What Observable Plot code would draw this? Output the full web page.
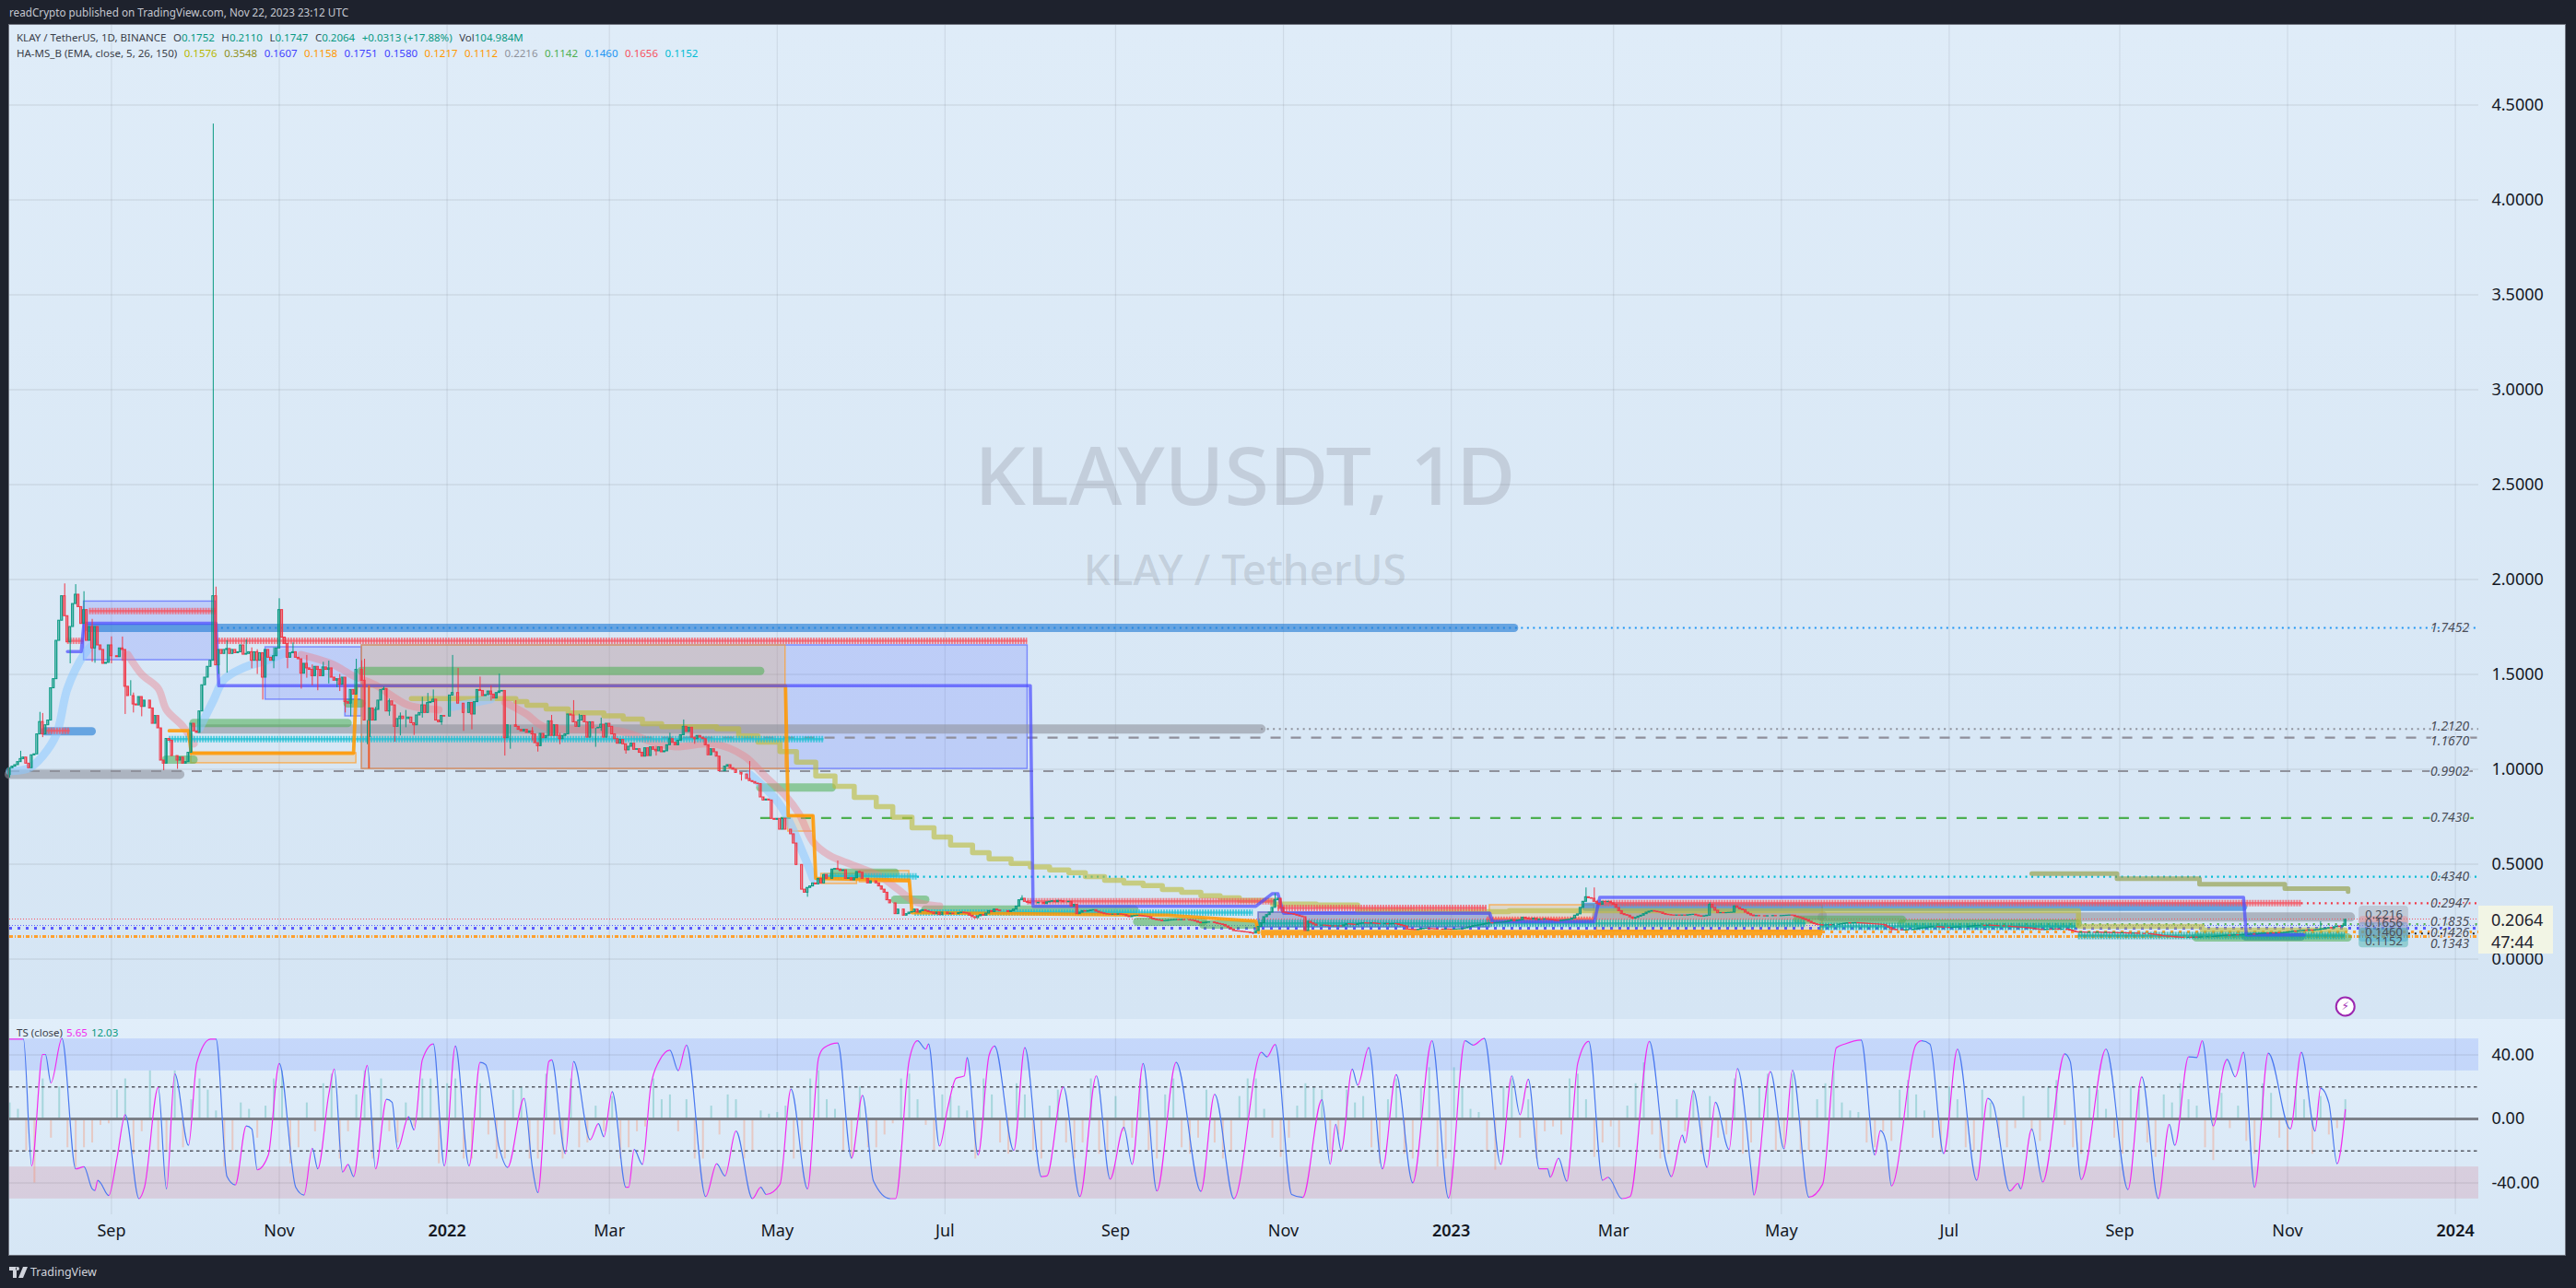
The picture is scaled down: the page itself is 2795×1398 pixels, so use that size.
<!DOCTYPE html>
<html><head><meta charset="utf-8">
<script src="https://cdn.jsdelivr.net/npm/d3@7"></script>
<script src="https://cdn.jsdelivr.net/npm/@observablehq/plot@0.6"></script>
<style>
html,body{margin:0;padding:0;background:#1e222d;width:2795px;height:1398px;overflow:hidden;font-family:"Noto Sans",sans-serif}
.abs{position:absolute}
#published{left:10px;top:5px;font-size:11.7px;color:#c4c7d0;white-space:nowrap}
#paneTop{left:10px;top:27px;width:2774px;height:1079px;background:linear-gradient(#dfecf8,#d5e5f4)}
#paneSub{left:10px;top:1106px;width:2774px;height:257px;background:linear-gradient(#e1eefa,#d6e6f5)}
#frame{left:9px;top:26px;width:2775px;height:1337px;border:1px solid #6f737e;box-sizing:border-box;pointer-events:none}
.pl{left:18px;font-size:11.5px;color:#3b3f4a;white-space:nowrap}
.pl span{margin-left:7.5px}
.pl b{font-weight:400}
#last{left:2689px;top:983px;width:81px;height:52px;background:#f2f5e5;color:#1e222d;font-size:18px;line-height:24px;padding:3px 0 0 14px;box-sizing:border-box}
#foot{left:10px;top:1372px;font-size:12.5px;color:#d1d4dc;display:flex;align-items:center;gap:3px}
svg{background:transparent}
</style></head><body>
<div class="abs" id="published">readCrypto published on TradingView.com, Nov 22, 2023 23:12 UTC</div>
<div class="abs" id="paneTop"></div><div class="abs" id="paneSub"></div>
<div class="abs" id="chartTop" style="left:10px;top:27px"></div>
<div class="abs" id="chartSub" style="left:10px;top:1106px"></div>
<div class="abs pl" id="l1" style="top:33px"></div>
<div class="abs pl" id="l2" style="top:50px"></div>
<div class="abs pl" id="l3" style="top:1113px"></div>
<div class="abs" id="last">0.2064<br>47:44</div>
<div class="abs" id="frame"></div>
<div class="abs" id="foot"><svg width="20" height="12" viewBox="0 0 20 12"><path d="M0 0h8v12H4V4H0zM9 4a2 2 0 1 0 0-4 2 2 0 0 0 0 4zM15 0h5l-5 12h-5z" fill="#d1d4dc"/></svg>TradingView</div>
<script>
// ---------- daily closes (day 0 = 2021-07-26) ----------
const closesA=[1.006,1.014,1.022,1.038,1.054,1.062,1.03,1.006,1.074,1.079,1.184,1.249,1.184,1.232,1.257,1.427,1.475,1.677,1.783,1.912,1.807,1.669,1.75,1.871,1.92,1.855,1.766,1.839,1.677,1.75,1.637,1.75,1.653,1.629,1.556,1.561,1.653,1.596,1.596,1.591,1.637,1.629,1.435,1.386,1.386,1.342,1.337,1.381,1.329,1.362,1.362,1.321,1.24,1.281,1.216,1.046,1.03,1.16,1.151,1.07,1.07,1.046,1.062,1.03,1.038,1.087,1.24,1.2,1.192,1.305,1.443,1.483,1.54,1.572,1.912,1.548,1.629,1.608,1.629,1.634,1.608,1.629,1.612,1.617,1.653,1.604,1.608,1.617,1.572,1.617,1.572,1.612,1.483,1.629,1.588,1.572,1.596,1.637,1.839,1.694,1.661,1.588,1.612,1.617,1.588,1.58,1.504,1.556,1.532,1.524,1.491,1.54,1.524,1.491,1.537,1.524,1.532,1.483,1.467,1.475,1.446,1.483,1.354,1.346,1.418,1.394,1.524,1.524,1.467,1.257,1.257,1.321];
const closesB=[1.257,1.313,1.362,1.418,1.423,1.305,1.358,1.337,1.224,1.265,1.278,1.265,1.265,1.273,1.243,1.232,1.284,1.297,1.337,1.297,1.349,1.354,1.367,1.257,1.248,1.281,1.278,1.278,1.389,1.402,1.402,1.346,1.346,1.297,1.297,1.35,1.289,1.354,1.418,1.413,1.386,1.391,1.41,1.394,1.373,1.402,1.41,1.413,1.164,1.232,1.232,1.232,1.224,1.208,1.2,1.208,1.192,1.2,1.184,1.138,1.122,1.187,1.164,1.176,1.253,1.176,1.232,1.176,1.159,1.176,1.184,1.289,1.284,1.248,1.224,1.257,1.281,1.248,1.167,1.248,1.216,1.216,1.219,1.235,1.167,1.24,1.224,1.184,1.159,1.135,1.155,1.132,1.1,1.119,1.135,1.103,1.106,1.087,1.067,1.111,1.07,1.116,1.103,1.095,1.116,1.09,1.095,1.127,1.159,1.14,1.127,1.151,1.18,1.224,1.197,1.219,1.167,1.159,1.176,1.167,1.159,1.127,1.074,1.106,1.09,1.067,.99,.99,1.014,1.022,1.006,.998,.981];
const closesC=[.981,.973,.973,.949,.938,.933,.925,.922,.852,.836,.841,.836,.739,.734,.739,.682,.739,.682,.682,.658,.609,.496,.496,.366,.35,.375,.383,.399,.394,.423,.399,.443,.423,.423,.472,.475,.472,.464,.468,.423,.426,.415,.426,.459,.455,.423,.423,.399,.41,.41,.399,.383,.366,.35,.31,.294,.294,.237,.261,.261,.229,.237,.245,.248,.261,.245,.253,.258,.253,.248,.245,.237,.245,.232,.245,.245,.237,.24,.237,.237,.242,.245,.242,.24,.229,.221,.216,.226,.232,.229,.24,.253,.248,.261,.256,.253,.253,.253,.248,.253,.261,.277,.31,.318,.302,.297,.294,.294,.294,.297,.297,.29,.299,.302,.305,.3,.307,.305,.3,.3,.302,.277,.286,.237,.245,.253,.25];
const closesD=[.253,.256,.258,.25,.245,.241,.237,.235,.234,.235,.234,.236,.234,.232,.226,.221,.226,.228,.229,.227,.225,.223,.221,.213,.208,.205,.203,.2,.201,.203,.204,.205,.206,.205,.206,.205,.205,.204,.202,.198,.192,.189,.19,.192,.193,.193,.19,.186,.183,.18,.172,.164,.156,.148,.146,.145,.143,.141,.14,.137,.135,.148,.17,.189,.221,.232,.245,.27,.31,.318,.27,.245,.241,.238,.237,.233,.229,.225,.221,.148,.197,.189,.182,.176,.176,.177,.176,.174,.172,.173,.172,.173,.172,.178,.184,.183,.181,.18,.184,.187,.189,.188,.187,.189,.187,.185,.184,.184,.185,.183,.184,.185,.184,.18,.176,.172,.156,.155,.154,.153,.155,.158,.16,.161,.159,.158,.157,.156,.156,.155,.157,.156,.155,.156,.157,.158,.159,.162,.166,.17,.174,.176,.178,.181,.184,.187,.189,.188,.19,.191,.192,.193,.196,.2,.205,.2,.203,.205];
const closesE=[.218,.214,.211,.209,.213,.206,.209,.208,.21,.208,.206,.204,.201,.2,.202,.204,.206,.208,.214,.229,.236,.27,.302,.326,.321,.318,.302,.292,.286,.302,.3,.302,.294,.286,.27,.253,.237,.232,.229,.22,.213,.217,.224,.229,.237,.245,.25,.253,.25,.247,.245,.238,.234,.232,.23,.229,.23,.229,.23,.229,.231,.233,.234,.23,.226,.224,.226,.229,.286,.27,.255,.242,.243,.242,.243,.244,.245,.278,.27,.262,.258,.245,.237,.23,.226,.227,.226,.226,.225,.226,.226,.227,.226,.226,.227,.228,.229,.23,.229,.224,.22,.216,.21,.205,.197,.189,.184,.18,.179,.177,.178,.179,.178,.18,.18,.182,.184,.187,.189,.188,.189,.19,.189,.188,.187,.186,.185,.184,.183,.182,.181,.18,.172,.165,.156,.154,.152,.152,.151,.152,.153,.153,.155,.158,.16,.162,.164,.166,.168,.169,.169,.168,.167,.165,.165,.164,.165,.166,.167,.168,.168,.168];
const closesF=[.171,.172,.174,.175,.176,.176,.175,.177,.176,.175,.174,.173,.173,.172,.172,.17,.169,.168,.167,.166,.165,.164,.162,.16,.158,.156,.154,.153,.155,.156,.155,.157,.156,.155,.156,.156,.154,.15,.146,.142,.14,.141,.14,.139,.14,.14,.139,.14,.139,.138,.139,.138,.137,.138,.137,.136,.137,.136,.135,.134,.135,.134,.133,.133,.132,.132,.131,.129,.127,.125,.122,.12,.119,.118,.117,.115,.114,.113,.112,.112,.113,.112,.114,.113,.114,.115,.115,.116,.116,.117,.119,.12,.122,.123,.124,.123,.125,.126,.125,.126,.127,.127,.128,.13,.129,.131,.133,.134,.135,.134,.136,.135,.137,.136,.137,.139,.141,.143,.146,.145,.147,.148,.15,.149,.151,.15,.152,.153,.156,.158,.161,.164,.162,.168,.172,.169,.1752,.2064];
// notable wicks: [day, high, low]
const wicks=[[0,null,.954],[4,1.095,null],[11,1.3,null],[12,1.294,1.167],[20,1.977,null],[22,null,1.556],[24,1.973,null],[27,1.936,null],[30,1.79,1.564],[31,null,1.559],[37,1.698,1.556],[41,1.697,1.569],[42,null,1.289],[44,1.467,null],[45,1.402,1.297],[48,null,1.277],[56,null,.993],[61,null,1],[74,4.4,null],[75,1.96,null],[76,null,1.5],[79,1.677,1.507],[86,1.682,null],[88,1.64,1.53],[90,1.63,1.5],[92,null,1.365],[96,1.64,1.53],[98,1.899,null],[101,1.64,1.53],[103,1.666,null],[106,null,1.423],[108,1.6,1.48],[110,1.55,1.44],[112,null,1.414],[114,1.564,null],[116,1.57,1.45],[119,null,1.43],[120,1.5,1.41],[122,null,1.297],[124,null,1.277],[126,1.58,1.5],[128,1.572,null],[129,1.58,null],[130,null,1.13],[131,null,1.167],[133,1.326,null],[136,1.434,null],[138,1.37,1.28],[140,null,1.143],[142,1.297,1.176],[144,1.31,1.219],[147,null,1.179],[150,1.38,1.27],[152,1.4,1.3],[154,1.418,null],[157,null,1.232],[161,1.6,null],[163,1.532,null],[165,1.33,1.2],[168,null,1.208],[171,1.486,null],[175,1.44,1.36],[178,1.502,null],[180,null,1.07],[182,null,1.106],[184,1.362,null],[190,1.22,1.15],[192,null,1.091],[197,1.284,null],[200,1.19,1.13],[205,1.362,null],[207,1.29,1.22],[213,null,1.116],[215,1.27,1.2],[224,1.13,1.08],[235,1.12,1.07],[240,1.19,1.13],[245,1.26,null],[249,null,1.132],[266,null,.938],[269,1.041,null],[290,null,.326],[301,.517,null],[368,.334,null],[452,null,.129],[460,.345,null],[573,.375,null],[576,.375,null],[618,.297,null],[684,null,.135],[840,.197,null],[849,.211,.1747]];

// overlay bands and boxes: [startDay, endDay, price] / [startDay, endDay, top, bottom]
const redBands=[[29,75,1.834],[75,370,1.677],[13,22,1.203],[21,27,1.677],[370,460,.305],[461,537,.269],[537,576,.208],[577,833,.2947]];
const cyanBands=[[58,296,1.159],[296,330,.436],[329,452,.245]];
const tealBands=[[454,653,.188],[658,751,.172],[752,849,.124]];
const greenBands=[[128,273,1.518],[67,123,1.244],[57,67,1.051],[123,128,1.347],[273,299,.904],[300,322,.455],[322,333,.313],[333,409,.261],[410,434,.197],[434,452,.182],[650,688,.208],[688,752,.187],[795,850,.114]];
const grayBands=[[0,62,.973],[69,455,1.212],[577,659,.231],[659,851,.2216]];
const blueBands=[[29,547,1.7452],[13,30,1.2],[573,812,.275],[813,833,.119]];
const orangeThick=[[455,659,.14]];
const blueBoxes=[[27,75,1.884,1.575],[93,128,1.643,1.367],[122,128,1.367,1.279],[128,370,1.653,1.002],[454,538,.245,.168]];
const orangeBoxes=[[66,126,1.085,1.032],[128,282,1.653,1.002],[283,292,.755,.672],[295,308,.449,.396],[309,327,.464,.405],[538,576,.284,.211],[577,659,.284,.148]];
const greyBoxes=[[454,538,.245,.168]];
const indigoDays=[21,26,27,75,76,371,372,453,459,461,463,538,539,576,578,812,813,834];
const indigoPrices=[1.62,1.62,1.77,1.77,1.44,1.44,.278,.278,.345,.345,.242,.242,.197,.197,.325,.325,.128,.128];
const orangeDays=[58,65,66,125,126,282,283,292,293,327,328,421,453,454];
const orangePrices=[1.203,1.203,1.085,1.085,1.44,1.44,.755,.755,.425,.415,.245,.231,.2,.14];
const oliveDays=[146,179,184,188,195,203,216,223,230,237,257,265,272,280,286,293,300,307,315,321,328,336,342,350,356,364,371,378,385,391,398,405,412,419,426,433,440,447,459,475,490,510,545,752,797,849];
const olivePrices=[1.373,1.373,1.357,1.337,1.318,1.297,1.281,1.264,1.24,1.224,1.213,1.176,1.143,1.094,1.038,.965,.91,.852,.803,.747,.692,.643,.601,.561,.528,.504,.485,.47,.455,.434,.415,.4,.387,.367,.352,.334,.323,.31,.29,.285,.255,.25,.255,.172,.153,.153];
const darkOliveDays=[735,766,796,827,849,850];
const darkOlivePrices=[.45,.423,.394,.371,.371,.355];
const pinkSeries=[[[43,1.604],[48,1.5],[54,1.426],[57,1.313],[63,1.226],[67,1.135]],[[106,1.604],[117,1.556],[125,1.492],[133,1.444],[140,1.377],[145,1.337],[156,1.313]],[[180,1.353],[188,1.289],[194,1.226],[222,1.2],[234,1.143],[242,1.119],[256,1.134],[267,1.07],[275,.958],[282,.861],[287,.764],[292,.618],[298,.546],[306,.498],[316,.439],[323,.366],[329,.303],[338,.279]]];
const lightBlueSeries=[[[0,.99],[7,1.006],[12,1.07],[17,1.184],[21,1.426],[27,1.604],[31,1.669]],[[69,1.216],[74,1.362],[78,1.475],[86,1.541],[93,1.572],[100,1.614]],[[161,1.329],[175,1.37]],[[269,.973],[280,.813],[289,.536],[292,.425]]];
// level lines drawn to the right edge: [startDay, price, colour, width, dash]
const levels=[[77,1.7452,"#2196f3",2.2,"2 4.5"],[455,1.212,"#8f929c",2,"2 4.5"],[230,1.167,"#8f8f9b",2.2,"11 11"],[0,.9902,"#8f929c",2.2,"11 11"],[273,.743,"#4caf50",2.2,"11 11"],[330,.434,"#00bcd4",2.2,"2 4.5"],[833,.2947,"#f23645",2.2,"2 4.5"],[0,.211,"#f7525f",1,"1 2"],[0,.177,"#5a5aff",1,"1 2"],[0,.1625,"#5a5aff",3,"3 6"],[0,.119,"#ff9f2d",3,"4 2 1 2"],[690,.1835,"#4caf50",2.2,"2 6"],[659,.1426,"#ff9f2d",3,"3 6"],[872,.135,"#222222",2,"2 5"]];
// right-hand level labels: [price, text, vertical nudge]
const levelLabels=[[1.7452,"1.7452",0],[1.212,"1.2120",-3],[1.167,"1.1670",4],[.9902,"0.9902",0],[.743,"0.7430",0],[.434,"0.4340",0],[.2947,"0.2947",0],[.1835,"0.1835",-3],[.1426,"0.1426",1],[.1343,"0.1343",11]];
const tags=[[.279,.182,"#9a9da8",.2216,"0.2216",-3],[.225,.118,"#f77c80",.1656,"0.1656",-5],[.1925,.09,"#42a5f5",.146,"0.1460",1],[.162,.06,"#26a69a",.1152,"0.1152",5]];
const priceTicks=[0,.5,1,1.5,2,2.5,3,3.5,4,4.5];
const monthTicks=["2021-09-01","2021-11-01","2022-03-01","2022-05-01","2022-07-01","2022-09-01","2022-11-01","2023-03-01","2023-05-01","2023-07-01","2023-09-01","2023-11-01"];
const yearTicks=["2022-01-01","2023-01-01","2024-01-01"];
// oscillator turning points: days and values
const waveDays=[0,5,8,12,13,15,19,24,27,30,31,32,33,36,39,42,47,49,54,57,60,65,68,73,75,79,82,86,88,90,94,98,104,107,110,112,116,118,121,123,125,130,133,137,139,141,145,147,150,154,158,162,167,171,173,178,181,187,190,192,196,197,202,205,211,214,216,219,224,225,227,230,233,236,240,243,246,253,257,260,264,270,273,275,280,284,290,294,296,301,306,310,314,320,322,327,330,333,334,338,341,344,347,348,352,356,358,365,369,375,377,383,389,395,400,405,408,412,417,424,433,438,445,455,457,460,466,470,477,480,482,484,488,490,494,499,504,510,517,523,529,532,536,542,546,549,552,556,559,560,563,566,570,574,579,581,586,589,596,602,604,608,609,612,617,620,625,628,633,634,640,645,648,654,659,664,667,673,678,680,682,684,693,695,698,703,708,715,719,721,727,730,731,735,739,747,749,753,762,770,775,781,785,787,792,795,797,801,805,806,809,812,816,821,829,833,838,840,843,846,849];
const waveValues=[49.9,49.9,-29.3,40.3,40.3,22.5,50.3,-31.2,-29.9,-43.7,-44.7,-38.3,-39.9,-47.9,-24.5,2.7,-49.8,-42.7,19.6,-43.7,28.2,-16.5,35,49.9,49.9,-36,-41.2,-4.4,-6.3,-31.8,-22.6,34.6,-42.7,-47.5,-18.4,-31.2,15.4,31.1,-33.2,-28.4,-36,33.4,-31.2,12.3,10.4,-18.8,1.4,-6.9,36.9,46.8,-29.3,45.5,-29.3,35.3,34,-18.4,-30.3,12.9,-30.3,-46,35.9,36.9,-21.6,35.9,-13,-3,-11.1,17.1,-42.7,-42.7,-19.1,-28.4,20,35.9,43,30.2,46.1,-48.5,-28,-35.6,-7.6,-49.8,-42.7,-47.2,-40.8,18.6,-43.7,37.9,44.5,47.4,-24.5,14.8,-38.9,-49.8,-49.8,36.9,48.8,43.6,46.8,-16.9,7.1,25.4,26.9,38.4,-22.5,39.7,45.5,-19.7,44.5,-36,-35.6,20,-48.5,26.9,-37.6,-5.3,-28.4,34.6,-45,35.3,-45.2,15.4,-49.8,41.7,38.8,46.5,-47.2,-49,12,-28.3,-3.4,-19.7,31.1,21.1,44.5,-31.2,27.7,-39.9,48.8,-49.4,48.8,46.1,50.3,-28.4,26.9,2.7,24.8,-31.2,-31.2,-36.4,-24.5,-38.9,34.9,48.4,-38.3,-36.4,-49.8,-48.5,48.4,-26.4,-36,-10.2,-14.9,17.7,-30.3,10.4,-19.1,31.5,-32.2,-47.5,29.6,-18.7,30.5,-48.9,-40.8,44.5,46.8,49.3,-22.6,-7.3,-14,-41.8,46.5,48.8,46.8,-21.6,43.6,-38.3,12.9,9,-45,-40.3,-43.7,-6.3,-39.4,40.7,35.9,-37.9,43.6,-44.1,26.3,-49.8,-3.4,-16.5,38.8,38.4,48.8,-4.4,34,37.2,26.3,41.7,-42.7,41.1,-6.3,41.7,-7.6,19.2,10,-28,5.8];
// oscillator histogram, one bar read every third day
const hist3day=[10,6,-20,-40,25,-12,20,-18,-30,-18,-15,-4,-3,18,25,-22,-8,30,-20,-20,30,-18,12,25,18,5,-30,-20,10,6,-12,8,25,30,-28,-18,10,-8,22,28,-25,-8,15,30,-25,25,-8,-15,10,-5,25,25,-28,22,25,-25,-25,22,-10,-25,-25,18,20,-25,-25,28,-10,-25,25,-18,-15,8,-8,14,-25,-18,-8,-5,25,12,15,-8,12,-25,-25,8,-10,15,12,-25,-20,5,3,4,8,-25,-20,25,30,12,6,-20,-25,20,-18,-18,-10,-3,25,28,12,-4,-20,15,14,8,5,-25,25,15,-15,-22,22,15,-20,-25,8,18,-15,-25,-15,25,-22,-20,14,-8,-12,25,-20,-25,15,25,-18,-22,-12,18,-15,-25,-20,14,25,25,6,-12,-24,-12,8,22,20,18,-22,-10,18,10,14,-18,-28,12,25,-22,-25,20,32,-30,-25,32,20,6,4,-20,-32,20,25,-12,12,-25,-8,-5,-10,25,28,12,-24,-15,-5,-18,8,22,35,-10,-25,-22,12,-8,18,-22,14,-12,-10,25,-22,-15,20,28,-20,-18,28,-22,-20,12,22,30,10,5,4,-15,-18,-8,-14,18,24,15,5,-12,-20,20,12,-18,-20,18,10,-12,-18,-6,14,-8,-14,20,24,-4,-18,-22,20,18,6,-12,-22,20,18,-15,-24,15,10,22,12,8,-18,-26,16,-6,8,-14,-22,22,16,-12,-20,20,12,-22,14,-10,-6,12];

const start=Date.UTC(2021,6,26), D=864e5, day=i=>new Date(start+i*D), LAST=897.5;
const closes=[...closesA,...closesB,...closesC,...closesD,...closesE,...closesF];
const wickMap=new Map(wicks.map(w=>[w[0],w]));
const candles=closes.map((c,i)=>{const o=i?closes[i-1]:.97,w=wickMap.get(i)||[i,null,null];
  return {date:day(i),x1:day(i-.36),x2:day(i+.36),o,c,h:Math.max(o,c,w[1]??0),l:Math.min(o,c,w[2]??9)};});
const upCandles=candles.filter(d=>d.c>=d.o),downCandles=candles.filter(d=>d.c<d.o);
const GREEN="#089981",RED="#f23645",MAGENTA="#f02cf0",WAVEBLUE="#4a78f0";
const xScale={type:"utc",domain:[day(0),day(LAST)],range:[0,2679]};
const hb=(rows,o)=>Plot.ruleY(rows,{x1:r=>day(r[0]),x2:r=>day(r[1]),y:r=>r[2],...o});
const hatched=(rows,c,w=7)=>[hb(rows,{stroke:c,strokeWidth:2.5,strokeOpacity:.7}),hb(rows,{stroke:c,strokeWidth:w,strokeDasharray:"2 1",strokeOpacity:.7})];
const boxes=(rows,fill,stroke,fo)=>Plot.rect(rows,{x1:r=>day(r[0]),x2:r=>day(r[1]),y1:r=>r[2],y2:r=>r[3],fill,fillOpacity:fo,stroke,strokeOpacity:.75,strokeWidth:1.4,inset:0});
const pts=(ds,ps)=>ds.map((d,k)=>({x:day(d),y:ps[k]}));
const multi=(series,o)=>series.map(s=>Plot.line(s.map(p=>({x:day(p[0]),y:p[1]})),{x:"x",y:"y",curve:"catmull-rom",...o}));

const topChart=Plot.plot({width:2774,height:1079,marginTop:0,marginBottom:0,marginLeft:0,marginRight:95,style:{background:"transparent",fontFamily:"'Noto Sans',sans-serif",overflow:"visible"},
 x:{...xScale,axis:null},
 y:{domain:[-.318,4.92],range:[1079,0],axis:null},
 marks:[
  Plot.gridX([...monthTicks,...yearTicks].map(s=>new Date(s)),{stroke:"#2a2e39",strokeOpacity:.09,strokeWidth:1.2}),
  Plot.gridY(priceTicks,{stroke:"#2a2e39",strokeOpacity:.09,strokeWidth:1.4}),
  Plot.text(["KLAYUSDT, 1D"],{x:day(449),y:2.53,fontSize:88,fill:"#787b86",fillOpacity:.24,fontWeight:500}),
  Plot.text(["KLAY / TetherUS"],{x:day(449),y:2.04,fontSize:46,fill:"#787b86",fillOpacity:.24,fontWeight:500}),
  boxes(blueBoxes,"#5c6bff","#5c6bff",.21),
  boxes(orangeBoxes,"#ff9f2d","#ff9f2d",.2),
  boxes(greyBoxes,"#787b86","#7a7fbf",.3),
  hb(grayBands,{stroke:"#8f929c",strokeWidth:10,strokeOpacity:.6,strokeLinecap:"round"}),
  ...levels.map(l=>Plot.ruleY([l[1]],{x1:day(l[0]),x2:day(LAST),stroke:l[2],strokeWidth:l[3],strokeDasharray:l[4]})),
  hb(blueBands,{stroke:"#2a7fd5",strokeWidth:9,strokeOpacity:.65,strokeLinecap:"round"}),
  hb(greenBands,{stroke:"#4caf50",strokeWidth:9,strokeOpacity:.55,strokeLinecap:"round"}),
  hb(orangeThick,{stroke:"#ff9800",strokeWidth:6,strokeOpacity:.85}),
  Plot.line(pts(oliveDays,olivePrices),{x:"x",y:"y",curve:"step-after",stroke:"#bdbb3a",strokeWidth:5.5,strokeOpacity:.62}),
  Plot.line(pts(darkOliveDays,darkOlivePrices),{x:"x",y:"y",curve:"step-after",stroke:"#8f9a3c",strokeWidth:5,strokeOpacity:.62}),
  ...multi(pinkSeries,{stroke:"#ec7f8a",strokeWidth:8,strokeOpacity:.42}),
  ...multi(lightBlueSeries,{stroke:"#8cc8ff",strokeWidth:9,strokeOpacity:.55}),
  ...hatched(redBands,"#f7525f"),
  ...hatched(cyanBands,"#1cc0d4"),
  ...hatched(tealBands,"#10aea4",8),
  Plot.line(pts(orangeDays,orangePrices),{x:"x",y:"y",stroke:"#ff9800",strokeWidth:3.8,strokeOpacity:.85}),
  Plot.line(pts(indigoDays,indigoPrices),{x:"x",y:"y",stroke:"#4a4aff",strokeWidth:3.5,strokeOpacity:.7}),
  Plot.ruleX([day(130.6)],{y1:1.44,y2:1.002,stroke:"#ec5a2a",strokeWidth:2}),
  Plot.ruleX(upCandles,{x:"date",y1:"l",y2:"h",stroke:GREEN,strokeWidth:1}),
  Plot.ruleX(downCandles,{x:"date",y1:"l",y2:"h",stroke:RED,strokeWidth:1}),
  Plot.rect(upCandles,{x1:"x1",x2:"x2",y1:"o",y2:"c",stroke:GREEN,fill:GREEN,fillOpacity:.2,strokeWidth:1}),
  Plot.rect(downCandles,{x1:"x1",x2:"x2",y1:"o",y2:"c",stroke:RED,fill:RED,fillOpacity:.2,strokeWidth:1}),
  Plot.rect(tags,{x1:day(854),x2:day(872),y1:r=>r[0],y2:r=>r[1],fill:r=>r[2],fillOpacity:.38,rx:4}),
  ...tags.map(t=>Plot.text([t],{x:day(863),y:r=>r[3],dy:t[5],text:r=>r[4],fontSize:13,fill:"#4a4e59"})),
  ...levelLabels.map(l=>Plot.text([l],{x:day(887),y:r=>r[0],dy:l[2],text:r=>r[1],fontSize:14,fontStyle:"italic",fill:"#4a4e59",stroke:"#d8e6f5",strokeWidth:3,strokeOpacity:.9})),
  Plot.dot([849],{x:i=>day(i),y:-.25,r:10,fill:"#ffffff",stroke:"#9c27b0",strokeWidth:2}),
  Plot.text(["\u26A1"],{x:day(849),y:-.25,fontSize:12,fill:"#9c27b0",fontFamily:"DejaVu Sans"}),
  Plot.axisY(priceTicks,{anchor:"right",tickSize:0,tickPadding:14,fontSize:18,fill:"#131722",tickFormat:d=>d.toFixed(4),label:null})
 ]});
document.getElementById("chartTop").append(topChart);

const wavePts=waveDays.map((d,k)=>({x:day(d),y:waveValues[k]}));
const histRows=hist3day.map((v,k)=>({x:day(k*3),v}));
// the one smooth oscillator curve turns magenta on rises and blue on falls
const waveGradient=()=>{
  const defs=d3.create("svg:defs");
  const g=defs.append("linearGradient").attr("id","waveGrad").attr("gradientUnits","userSpaceOnUse").attr("x1",0).attr("x2",2679).attr("y1",0).attr("y2",0);
  waveDays.slice(1).forEach((dd,k)=>{const c=waveValues[k+1]>=waveValues[k]?MAGENTA:WAVEBLUE;
    g.append("stop").attr("offset",waveDays[k]/LAST).attr("stop-color",c);
    g.append("stop").attr("offset",dd/LAST).attr("stop-color",c);});
  return defs.node();
};
const subChart=Plot.plot({width:2774,height:257,marginTop:0,marginBottom:45,marginLeft:0,marginRight:95,style:{background:"transparent",fontFamily:"'Noto Sans',sans-serif",overflow:"visible"},
 x:{...xScale,axis:null},
 y:{domain:[-59.86,62.16],range:[212,0],axis:null},
 marks:[
  waveGradient,
  Plot.rect([[30,50]],{y1:r=>r[0],y2:r=>r[1],fill:"#5a82ff",fillOpacity:.2}),
  Plot.rect([[-50,-30]],{y1:r=>r[0],y2:r=>r[1],fill:"#d2627f",fillOpacity:.2}),
  Plot.gridX([...monthTicks,...yearTicks].map(s=>new Date(s)),{stroke:"#2a2e39",strokeOpacity:.09,strokeWidth:1.2}),
  Plot.gridY([40,-40],{stroke:"#2a2e39",strokeOpacity:.09,strokeWidth:1.4}),
  Plot.ruleX(histRows.filter(d=>d.v>=0),{x:"x",y1:0,y2:"v",stroke:"#26a69a",strokeOpacity:.3,strokeWidth:2}),
  Plot.ruleX(histRows.filter(d=>d.v<0),{x:"x",y1:0,y2:"v",stroke:"#ff7d50",strokeOpacity:.3,strokeWidth:2}),
  Plot.ruleY([20,-20],{stroke:"#555963",strokeWidth:1.4,strokeDasharray:"3.5 3.5"}),
  Plot.ruleY([0],{stroke:"#7c8088",strokeWidth:3}),
  Plot.line(wavePts,{x:"x",y:"y",curve:"monotone-x",stroke:"url(#waveGrad)",strokeWidth:1.2}),
  Plot.axisY([40,0,-40],{anchor:"right",tickSize:0,tickPadding:14,fontSize:18,fill:"#131722",tickFormat:d=>d.toFixed(2),label:null}),
  Plot.axisX(monthTicks.map(s=>new Date(s)),{anchor:"bottom",tickSize:0,tickPadding:11,fontSize:18,fill:"#131722",tickFormat:d3.utcFormat("%b"),label:null}),
  Plot.axisX(yearTicks.map(s=>new Date(s)),{anchor:"bottom",tickSize:0,tickPadding:11,fontSize:18,fontWeight:600,fill:"#131722",tickFormat:d3.utcFormat("%Y"),label:null})
 ]});
document.getElementById("chartSub").append(subChart);

// legend text
const legend1=[["KLAY / TetherUS, 1D, BINANCE"],["O","0.1752"],["H","0.2110"],["L","0.1747"],["C","0.2064"],["","+0.0313 (+17.88%)"],["Vol","104.984M"]];
const legend2Values=["0.1576","0.3548","0.1607","0.1158","0.1751","0.1580","0.1217","0.1112","0.2216","0.1142","0.1460","0.1656","0.1152"];
const legend2Colors=["#b8b800","#8f8f20","#3f3fff","#ff9800","#3f3fff","#3f3fff","#ff9800","#ff9800","#8f929c","#4caf50","#2196f3","#f7525f","#00bcd4"];
document.getElementById("l1").innerHTML=legend1.map((r,k)=>`${k?"<span>":"<span style='margin:0'>"}${r[0]}<b style="color:#089981">${r[1]||""}</b></span>`).join("");
document.getElementById("l2").innerHTML="<span style='margin:0'>HA-MS_B (EMA, close, 5, 26, 150)</span>"+legend2Values.map((v,k)=>`<span style="color:${legend2Colors[k]}">${v}</span>`).join("");
document.getElementById("l3").innerHTML="<span style='margin:0'>TS (close)</span><span style='color:#f02cf0;margin-left:4px'>5.65</span><span style='color:#089981;margin-left:4px'>12.03</span>";
</script></body></html>
